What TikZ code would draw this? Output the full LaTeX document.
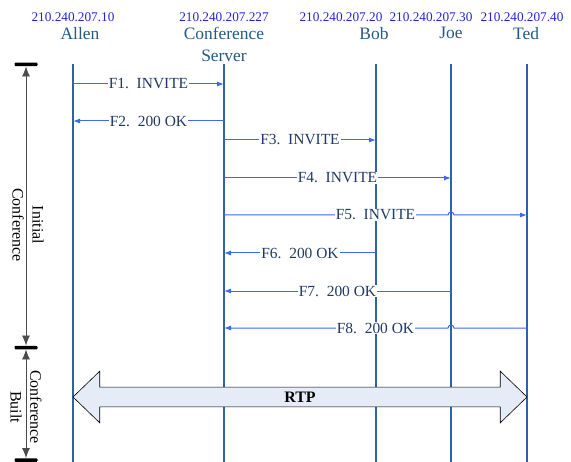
\documentclass[tikz,border=0pt]{standalone}
\usepackage{fontspec}
\setmainfont{Liberation Serif}
\usetikzlibrary{arrows.meta,positioning,calc,shapes.arrows}

\definecolor{IpBlue}{HTML}{2323DC}
\definecolor{NameBlue}{HTML}{245A86}
\definecolor{LifeBlue}{HTML}{2E62A6}
\definecolor{MsgBlue}{HTML}{3A68EE}
\definecolor{LabelBlue}{HTML}{1F3A66}
\definecolor{RtpFill}{HTML}{E5ECF7}

\begin{document}
\begin{tikzpicture}[x=1bp, y=-1bp, >=Latex,
    ipaddr/.style={font=\fontsize{13.3}{15}\selectfont, text=IpBlue, inner sep=1pt},
    party/.style={font=\fontsize{17.5}{22}\selectfont, text=NameBlue, align=center, inner sep=1pt, anchor=north},
    lifeline/.style={draw=LifeBlue, line width=1.4bp},
    msg/.style={draw=MsgBlue, line width=1bp, -{Latex[length=7bp,width=5bp]}},
    msglabel/.style={font=\fontsize{15.5}{17}\selectfont, text=LabelBlue, fill=white, inner sep=1pt},
    phasebar/.style={fill=black, minimum width=23bp, minimum height=3.5bp, inner sep=0pt, rounded corners=1bp},
    phase/.style={draw=black!70, line width=0.8bp, {Latex[length=10bp,width=8bp]}-{Latex[length=10bp,width=8bp]}},
    phaselabel/.style={font=\fontsize{16}{20}\selectfont, rotate=-90, align=center},
    rtparrow/.style={double arrow, draw=black, fill=RtpFill, line width=0.6bp, minimum height=454bp, minimum width=51bp,
      double arrow head extend=16bp, double arrow tip angle=88, text height=10.5bp, text depth=0bp, inner ysep=4.3bp,
      font=\fontsize{16}{18}\selectfont\bfseries}]

    \useasboundingbox (0,0) rectangle (571,462);

    % parties
    \node [ipaddr] (allenIP) at (73,17) {210.240.207.10};
    \node [ipaddr] (confIP) at (224,17) {210.240.207.227};
    \node [ipaddr] (bobIP) at (341,17) {210.240.207.20};
    \node [ipaddr] (joeIP) at (431,17) {210.240.207.30};
    \node [ipaddr] (tedIP) at (522,17) {210.240.207.40};
    \node [party] (allenName) at (80,26) {Allen};
    \node [party] (confName) at (224,26) {Conference\\Server};
    \node [party] (bobName) at (374,26) {Bob};
    \node [party] (joeName) at (451,26) {Joe};
    \node [party] (tedName) at (526,26) {Ted};

    % lifelines
    \foreach \who/\x in {allen/73, conf/224, bob/376, joe/451, ted/527} {
        \coordinate (\who) at (\x,64);
        \coordinate (\who-end) at (\x,462);
        \draw [lifeline] (\who) -- (\who-end);
    }

    % messages
    \foreach \from/\to/\y/\txt in {allen/conf/84/F1.~~INVITE, conf/allen/121/F2.~~200 OK,
        conf/bob/140/F3.~~INVITE, conf/joe/178/F4.~~INVITE,
        bob/conf/253/F6.~~200 OK, joe/conf/291/F7.~~200 OK} {
        \draw [msg] (\from |- 0,\y) -- (\to |- 0,\y) node [msglabel, midway] {\txt};
    }
    % messages hopping over Joe
    \draw [msg] (conf |- 0,215) -- ($(joe |- 0,215)+(-3,0)$) arc [start angle=180, end angle=360, radius=3] -- (ted |- 0,215);
    \node [msglabel] (f5) at ($(conf |- 0,215)!.5!(ted |- 0,215)$) {F5.~~INVITE};
    \draw [msg] (ted |- 0,328) -- ($(joe |- 0,328)+(3,0)$) arc [start angle=0, end angle=-180, radius=3] -- (conf |- 0,328);
    \node [msglabel] (f8) at ($(conf |- 0,328)!.5!(ted |- 0,328)$) {F8.~~200 OK};

    % phases
    \node [phasebar] (barTop) at (26,64.5) {};
    \node [phasebar] (barMid) at (26,347.5) {};
    \node [phasebar] (barBot) at (26,460) {};
    \draw [phase] (barTop.south) -- (barMid.north);
    \draw [phase] (barMid.south) -- (barBot.north);
    \node [phaselabel] (initial) at (28,225) {Initial\\Conference};
    \node [phaselabel] (built) at (26,407) {Conference\\Built};

    % media
    \node [rtparrow] (rtp) at ($(allen |- 0,397)!.5!(ted |- 0,397)$) {RTP};
\end{tikzpicture}
\end{document}
